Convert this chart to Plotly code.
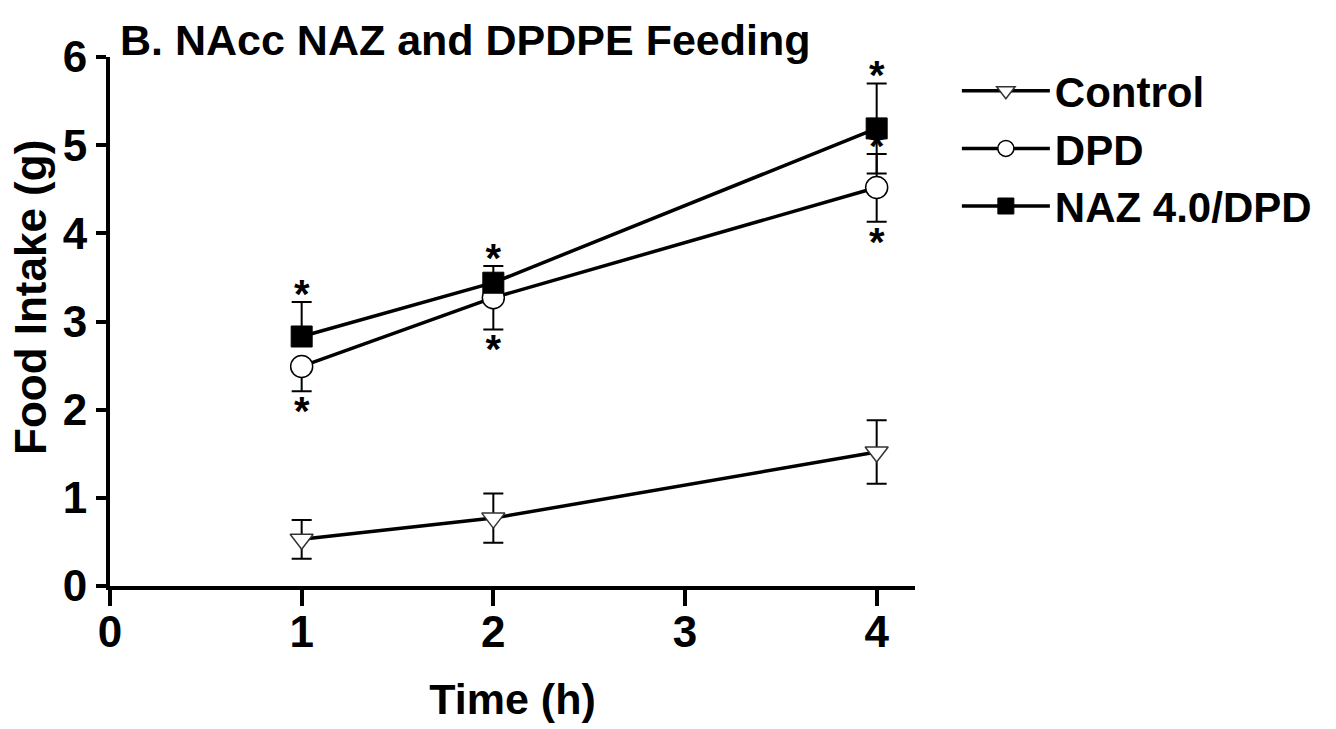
import plotly.graph_objects as go

# ---------------- data ----------------
time_h = [1, 2, 4]

control_mean = [0.53, 0.77, 1.52]
control_sem = [0.22, 0.28, 0.36]

dpd_mean = [2.49, 3.27, 4.52]
dpd_sem_plus = [0.0, 0.0, 0.38]     # upper bars hidden under NAZ markers at 1 h and 2 h
dpd_sem_minus = [0.28, 0.36, 0.39]

naz_mean = [2.83, 3.44, 5.19]
naz_sem_plus = [0.39, 0.19, 0.51]
naz_sem_minus = [0.0, 0.0, 0.51]

# significance asterisks: (series, time index, side)
sig_marks = [
    ("naz", 0, "above"), ("naz", 1, "above"), ("naz", 2, "above"),
    ("dpd", 0, "below"), ("dpd", 1, "below"), ("dpd", 2, "below"), ("dpd", 2, "above"),
]

x_tick_vals = [0, 1, 2, 3, 4]
y_tick_vals = [0, 1, 2, 3, 4, 5, 6]

# ---------------- style ----------------
FONT = "Liberation Sans, Arial, Helvetica, sans-serif"
W, H = 1336, 729
ML, MR, MT, MB = 110, 421, 57, 143
Y_RANGE = [0, 6]
X_RANGE = [0, 4.2]
px_per_unit_y = (H - MT - MB) / (Y_RANGE[1] - Y_RANGE[0])
STAR_ABOVE_PX = 4
STAR_BELOW_PX = 24

fig = go.Figure()

fig.add_trace(go.Scatter(
    x=time_h, y=control_mean, name="Control", mode="lines+markers",
    line=dict(color="black", width=3.5),
    marker=dict(symbol="triangle-down", size=20, color="white",
                line=dict(color="#333333", width=1.5)),
    error_y=dict(type="data", array=control_sem, symmetric=True,
                 color="black", thickness=2, width=10),
))

fig.add_trace(go.Scatter(
    x=time_h, y=dpd_mean, name="DPD", mode="lines+markers",
    line=dict(color="black", width=3.5),
    marker=dict(symbol="circle", size=22, color="white",
                line=dict(color="black", width=1.5)),
    error_y=dict(type="data", array=dpd_sem_plus, arrayminus=dpd_sem_minus,
                 symmetric=False, color="black", thickness=2, width=10),
))

# asterisks (drawn before NAZ so its square can overlap them)
series = {
    "naz": (naz_mean, naz_sem_plus, naz_sem_minus),
    "dpd": (dpd_mean, dpd_sem_plus, dpd_sem_minus),
}
sx, sy = [], []
for name, i, side in sig_marks:
    m, p, mn = series[name]
    if side == "above":
        y = m[i] + p[i] + STAR_ABOVE_PX / px_per_unit_y
    else:
        y = m[i] - mn[i] - STAR_BELOW_PX / px_per_unit_y
    sx.append(time_h[i])
    sy.append(y)
fig.add_trace(go.Scatter(
    x=sx, y=sy, mode="text", text=["*"] * len(sx), showlegend=False,
    textposition="middle center", hoverinfo="skip",
    textfont=dict(family=FONT, size=40, color="black", weight="bold"),
))

fig.add_trace(go.Scatter(
    x=time_h, y=naz_mean, name="NAZ 4.0/DPD", mode="lines+markers",
    line=dict(color="black", width=3.5),
    marker=dict(symbol="square", size=21, color="black",
                line=dict(color="black", width=1)),
    error_y=dict(type="data", array=naz_sem_plus, arrayminus=naz_sem_minus,
                 symmetric=False, color="black", thickness=2, width=10),
))

fig.update_layout(
    width=W, height=H,
    margin=dict(l=ML, r=MR, t=MT, b=MB),
    paper_bgcolor="white", plot_bgcolor="white",
    font=dict(family=FONT, color="black", size=42, weight="bold"),
    title=dict(text="B. NAcc NAZ and DPDPE Feeding", xref="container", yref="container",
               x=120 / W, xanchor="left", y=1 - 40 / H, yanchor="middle",
               font=dict(family=FONT, size=43, color="black", weight="bold")),
    showlegend=True,
    legend=dict(x=1.052, y=1.0, xanchor="left", yanchor="top",
                bgcolor="rgba(0,0,0,0)", borderwidth=0, itemwidth=88,
                font=dict(family=FONT, size=42, color="black", weight="bold"),
                tracegroupgap=0),
    xaxis=dict(range=X_RANGE, tickvals=x_tick_vals, showgrid=False, zeroline=False,
               showline=True, linecolor="black", linewidth=4, automargin=False,
               ticks="outside", ticklen=16, tickwidth=4, tickcolor="black",
               ticklabelstandoff=-12,
               tickfont=dict(family=FONT, size=44, color="black", weight="bold"),
               title=dict(text="Time (h)", standoff=30,
                          font=dict(family=FONT, size=43, color="black", weight="bold"))),
    yaxis=dict(range=Y_RANGE, tickvals=y_tick_vals, showgrid=False, zeroline=False,
               showline=True, linecolor="black", linewidth=4, automargin=False,
               ticks="outside", ticklen=10, tickwidth=4, tickcolor="black",
               tickfont=dict(family=FONT, size=44, color="black", weight="bold"),
               title=dict(text="", font=dict(size=1))),
    annotations=[dict(text="Food Intake (g)", xref="paper", yref="paper",
                      x=-(ML - 30) / (W - ML - MR), y=(H - MB - 298) / (H - MT - MB),
                      xanchor="center", yanchor="middle", textangle=-90, showarrow=False,
                      font=dict(family=FONT, size=44, color="black", weight="bold"))],
)

fig.write_html("out.html")
